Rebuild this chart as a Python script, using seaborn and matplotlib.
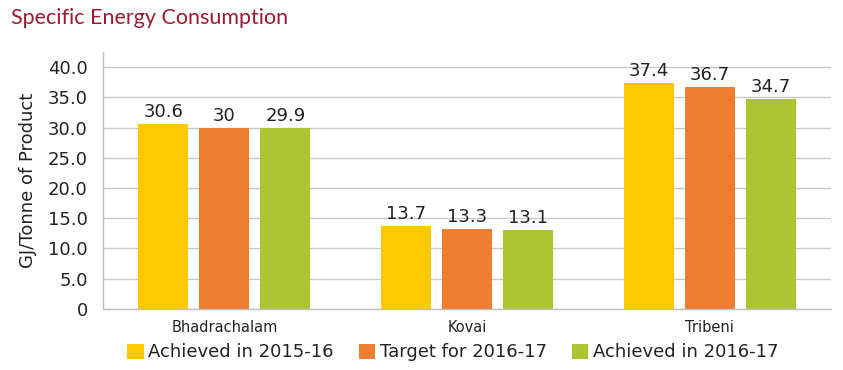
import matplotlib
matplotlib.use('Agg')
import matplotlib.pyplot as plt
import seaborn as sns
import pandas as pd

# chart data
plants = ['Bhadrachalam', 'Kovai', 'Tribeni']
series = ['Achieved in 2015-16', 'Target for 2016-17', 'Achieved in 2016-17']
achieved_1516 = [30.6, 13.7, 37.4]
target_1617 = [30, 13.3, 36.7]
achieved_1617 = [29.9, 13.1, 34.7]
yticks = [0, 5, 10, 15, 20, 25, 30, 35, 40]

colors = ['#FFC800', '#ED7D31', '#A9C52F']

rows = []
for s, vals in zip(series, [achieved_1516, target_1617, achieved_1617]):
	for p, v in zip(plants, vals):
		rows.append({'Plant': p, 'Series': s, 'Value': v})
df = pd.DataFrame(rows)

sns.set_style('white')
plt.rcParams['font.family'] = ['DejaVu Sans']

fig = plt.figure(figsize=(8.43, 3.70), dpi=100)
ax = fig.add_axes([0.1222, 0.1649, 0.8636, 0.6948])

sns.barplot(data=df, x='Plant', y='Value', hue='Series', order=plants, hue_order=series,
	palette=colors, width=0.754, gap=0.18, saturation=1, linewidth=0, ax=ax, legend=True)

for cont in ax.containers:
	labels = ['%g' % v for v in cont.datavalues]
	ax.bar_label(cont, labels=labels, padding=2, fontsize=13, color='#222222')

ax.set_ylim(0, 42.5)
ax.set_xlim(-0.5, 2.5)
ax.set_yticks(yticks)
ax.set_yticklabels(['0'] + ['%.1f' % t for t in yticks[1:]], fontsize=13, color='#222222')
ax.tick_params(axis='y', length=7, color='#BFBFBF', width=1, pad=4)
ax.tick_params(axis='x', length=0, labelsize=10.5, labelcolor='#222222', pad=8)
ax.yaxis.grid(True, color='#C8C8C8', linewidth=1)
ax.set_axisbelow(True)
for side in ['top', 'right']:
	ax.spines[side].set_visible(False)
for side in ['left', 'bottom']:
	ax.spines[side].set_color('#BFBFBF')
	ax.spines[side].set_linewidth(1)
ax.set_xlabel('')
ax.set_ylabel('GJ/Tonne of Product', fontsize=13, color='#222222', labelpad=8)

h, l = ax.get_legend_handles_labels()
ax.get_legend().remove()
fig.legend(h, l, loc='center', bbox_to_anchor=(0.537, 0.048), ncol=3, frameon=False,
	fontsize=13, handlelength=0.9, handleheight=0.9, handletextpad=0.25, columnspacing=1.4,
	labelcolor='#222222')

fig.text(0.013, 0.95, 'Specific Energy Consumption', fontsize=15.5, color='#9B1B30',
	family='Lato', va='center', ha='left')

fig.savefig('out.png', dpi=100)
